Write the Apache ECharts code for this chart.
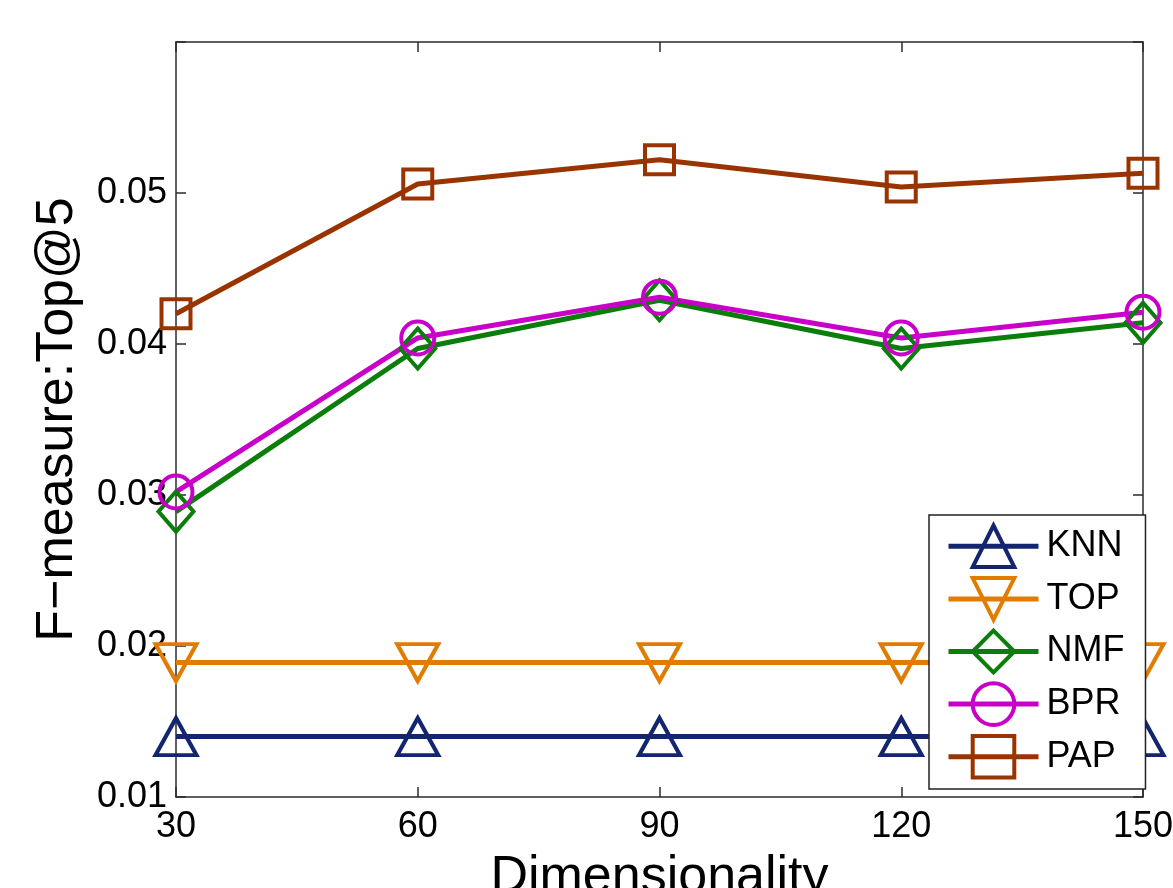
<!DOCTYPE html>
<html>
<head>
<meta charset="utf-8">
<script src="https://cdn.jsdelivr.net/npm/echarts@6/dist/echarts.min.js"></script>
<style>
html,body{margin:0;padding:0;background:#fff;overflow:hidden;}
#chart{position:absolute;left:0;top:0;width:1173px;height:888px;}
</style>
</head>
<body>
<div id="chart"></div>
<script>
const dims = [30, 60, 90, 120, 150];
const knn = [0.0140, 0.0140, 0.0140, 0.0140, 0.0140];
const top_ = [0.0189, 0.0189, 0.0189, 0.0189, 0.0189];
const nmf = [0.0289, 0.0397, 0.0429, 0.0397, 0.0414];
const bpr = [0.0302, 0.0404, 0.0431, 0.0404, 0.0421];
const pap = [0.0420, 0.0506, 0.0522, 0.0504, 0.0513];
const yTicks = [0.01, 0.02, 0.03, 0.04, 0.05, 0.06];
const xTicks = [30, 60, 90, 120, 150];

const FONT = '"Liberation Sans", Arial, sans-serif';
const AXC = '#2b2b2b';

function mk(name, vals, color, symbol, size, rotate) {
  return {
    name: name, type: 'line', clip: false,
    data: dims.map((d, i) => [d, vals[i]]),
    symbol: symbol, symbolSize: size, symbolRotate: rotate || 0,
    lineStyle: { color: color, width: 5 },
    itemStyle: { color: 'rgba(255,255,255,0)', borderColor: color, borderWidth: 4 },
    emphasis: { disabled: true },
    animation: false
  };
}

const chart = echarts.init(document.getElementById('chart'), null, { width: 1173, height: 888 });
chart.setOption({
  backgroundColor: '#fff',
  animation: false,
  grid: { left: 176, right: 30, top: 42, bottom: 91, containLabel: false, outerBoundsMode: 'none' },
  xAxis: [{
    type: 'value', min: xTicks[0], max: xTicks[xTicks.length - 1], interval: 30,
    name: 'Dimensionality', nameLocation: 'middle', nameGap: 55,
    nameTextStyle: { fontFamily: FONT, fontSize: 52, color: '#000' },
    axisLine: { show: true, lineStyle: { color: AXC, width: 1.5 } },
    axisTick: { show: true, inside: true, length: 10, lineStyle: { color: AXC, width: 1.5 } },
    axisLabel: { fontFamily: FONT, fontSize: 36, color: '#000', margin: 12 },
    splitLine: { show: false }
  }, {
    type: 'value', position: 'top', min: xTicks[0], max: xTicks[xTicks.length - 1], interval: 30,
    axisLine: { show: true, onZero: false, lineStyle: { color: AXC, width: 1.5 } },
    axisTick: { show: true, inside: true, length: 10, lineStyle: { color: AXC, width: 1.5 } },
    axisLabel: { show: false }, splitLine: { show: false }
  }],
  yAxis: [{
    type: 'value', min: yTicks[0], max: yTicks[yTicks.length - 1], interval: 0.01,
    name: 'F\u2212measure:Top@5', nameLocation: 'middle', nameGap: 92,
    nameTextStyle: { fontFamily: FONT, fontSize: 52, color: '#000' },
    axisLine: { show: true, lineStyle: { color: AXC, width: 1.5 } },
    axisTick: { show: true, inside: true, length: 10, lineStyle: { color: AXC, width: 1.5 } },
    axisLabel: {
      fontFamily: FONT, fontSize: 36, color: '#000', margin: 9,
      formatter: v => (v > 0.0595 ? '' : v.toFixed(2))
    },
    splitLine: { show: false }
  }, {
    type: 'value', position: 'right', min: yTicks[0], max: yTicks[yTicks.length - 1], interval: 0.01,
    axisLine: { show: true, onZero: false, lineStyle: { color: AXC, width: 1.5 } },
    axisTick: { show: true, inside: true, length: 10, lineStyle: { color: AXC, width: 1.5 } },
    axisLabel: { show: false }, splitLine: { show: false }
  }],
  legend: {
    left: 929, top: 515, orient: 'vertical',
    padding: [8.5, 21, 9.5, 17],
    itemWidth: 90, itemHeight: 52, itemGap: 7,
    backgroundColor: '#fff', borderColor: '#222', borderWidth: 1.5,
    itemStyle: { borderWidth: 4 },
    lineStyle: { width: 5 },
    textStyle: { fontFamily: FONT, fontSize: 36, color: '#000', padding: [0, 0, 0, 3] },
    selectedMode: false,
    data: ['KNN', 'TOP', 'NMF', 'BPR', 'PAP']
  },
  series: [
    mk('KNN', knn, '#13256e', 'triangle', [41, 37]),
    mk('TOP', top_, '#e07c00', 'triangle', [41, 37], 180),
    mk('NMF', nmf, '#0a7d0a', 'diamond', [35, 40]),
    mk('BPR', bpr, '#c800c8', 'circle', 33),
    mk('PAP', pap, '#993300', 'rect', 29)
  ]
});
</script>
</body>
</html>
